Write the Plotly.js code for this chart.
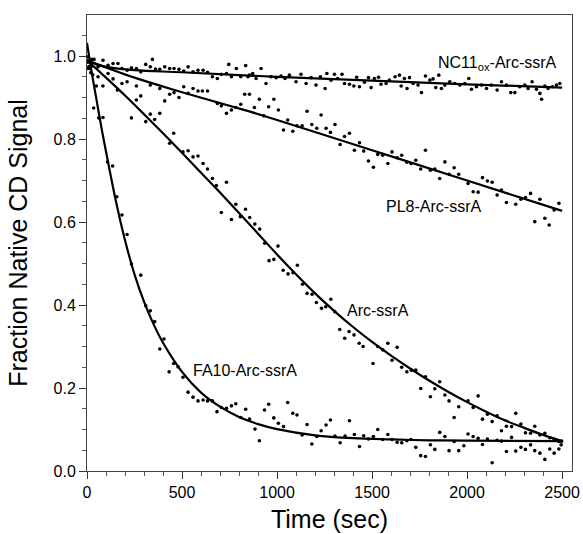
<!DOCTYPE html>
<html>
<head>
<meta charset="utf-8">
<script src="https://cdn.plot.ly/plotly-3.0.1.min.js"></script>
<style>html,body{margin:0;padding:0;background:#fff;}#chart{width:583px;height:534px;}</style>
</head>
<body>
<div id="chart"></div>
<script>
// ---- Data (time in sec, fraction native CD signal) ----
const fa10T = [5,20,35,62,84,108,135,157,184,211,234,283,309,333,356,383,405,432,456,479,505,532,558,584,611,634,660,684,707,734,760,783,809,835,855,884,907,934,956,983,1007,1034,1056,1083,1105,1132,1158,1183,1209,1232,1258,1281,1305,1332,1358,1381,1407,1434,1456,1481,1507,1530,1556,1583,1605,1632,1656,1683,1705,1730,1756,1781,1807,1830,1856,1883,1905,1932,1956,1983,2005,2032,2058,2081,2107,2132,2158,2181,2207,2234,2256,2283,2307,2334,2356,2383,2409,2435,2458,2483,2495];
const fa10V = [0.985,0.960,0.875,0.851,0.852,0.745,0.735,0.661,0.617,0.570,0.499,0.472,0.398,0.386,0.360,0.294,0.318,0.239,0.259,0.251,0.226,0.190,0.178,0.169,0.171,0.169,0.169,0.143,0.153,0.151,0.157,0.162,0.129,0.149,0.125,0.101,0.073,0.147,0.161,0.128,0.115,0.107,0.165,0.139,0.135,0.087,0.112,0.065,0.083,0.097,0.111,0.123,0.084,0.068,0.084,0.121,0.088,0.059,0.085,0.077,0.083,0.100,0.076,0.088,0.076,0.069,0.068,0.073,0.076,0.057,0.037,0.035,0.063,0.052,0.093,0.083,0.049,0.071,0.049,0.061,0.089,0.083,0.079,0.064,0.077,0.020,0.074,0.072,0.047,0.081,0.048,0.057,0.052,0.063,0.049,0.043,0.028,0.053,0.043,0.053,0.063];

const arcT = [10,30,49,84,160,234,260,309,333,356,383,435,456,505,532,558,584,611,634,660,681,707,734,760,783,807,834,856,883,909,935,958,983,1005,1032,1058,1084,1107,1134,1158,1184,1207,1234,1256,1283,1304,1330,1356,1379,1405,1432,1453,1505,1530,1556,1583,1605,1632,1656,1683,1707,1730,1756,1781,1807,1830,1856,1883,1905,1932,1956,2005,2032,2058,2081,2107,2132,2158,2181,2207,2234,2256,2283,2307,2334,2356,2383,2409,2435,2458,2483,2497];
const arcV = [0.975,0.955,0.928,0.928,0.918,0.851,0.894,0.842,0.860,0.847,0.862,0.790,0.814,0.769,0.772,0.757,0.759,0.741,0.728,0.705,0.688,0.623,0.696,0.606,0.643,0.613,0.631,0.611,0.595,0.583,0.549,0.507,0.510,0.542,0.484,0.475,0.478,0.496,0.450,0.428,0.426,0.406,0.392,0.396,0.414,0.384,0.341,0.320,0.336,0.328,0.308,0.300,0.259,0.300,0.292,0.308,0.267,0.298,0.250,0.239,0.243,0.243,0.199,0.227,0.179,0.198,0.215,0.183,0.169,0.129,0.155,0.169,0.153,0.181,0.125,0.137,0.119,0.133,0.097,0.108,0.107,0.139,0.113,0.092,0.091,0.108,0.087,0.091,0.080,0.075,0.071,0.072];

const pl8T = [5,23,58,111,137,184,211,260,283,333,383,409,435,458,484,509,532,558,584,607,634,686,707,734,760,783,809,830,855,881,907,930,956,983,1007,1034,1056,1083,1105,1132,1158,1183,1209,1232,1258,1281,1305,1332,1355,1381,1407,1434,1456,1481,1507,1530,1556,1583,1605,1632,1656,1683,1705,1730,1756,1781,1807,1830,1856,1883,1905,1932,1956,2005,2032,2058,2081,2107,2132,2158,2181,2207,2256,2283,2307,2334,2356,2383,2409,2432,2458,2483];
const pl8V = [0.970,0.975,0.950,0.958,0.945,0.934,0.938,0.928,0.904,0.930,0.922,0.892,0.908,0.912,0.900,0.926,0.910,0.922,0.916,0.916,0.916,0.886,0.880,0.862,0.870,0.876,0.884,0.908,0.908,0.876,0.896,0.856,0.878,0.896,0.870,0.822,0.846,0.819,0.832,0.832,0.867,0.835,0.826,0.858,0.826,0.816,0.835,0.787,0.806,0.814,0.773,0.791,0.771,0.747,0.732,0.763,0.761,0.741,0.769,0.755,0.761,0.744,0.741,0.749,0.728,0.773,0.725,0.728,0.705,0.745,0.715,0.731,0.715,0.693,0.673,0.672,0.707,0.699,0.696,0.665,0.677,0.647,0.643,0.655,0.659,0.669,0.601,0.655,0.609,0.593,0.629,0.645];

const nc11T = [5,14,26,37,58,84,111,137,163,184,211,234,260,283,309,333,344,360,383,409,435,458,484,509,532,558,584,611,634,660,686,707,734,746,760,786,809,835,847,855,872,890,916,942,968,995,1021,1042,1065,1100,1126,1153,1179,1205,1228,1253,1262,1284,1302,1319,1342,1355,1381,1404,1419,1434,1460,1481,1495,1512,1534,1547,1574,1591,1621,1644,1653,1670,1684,1697,1716,1742,1760,1781,1804,1821,1835,1851,1865,1883,1909,1935,1962,1988,2009,2023,2049,2076,2102,2128,2158,2181,2207,2230,2251,2277,2304,2321,2342,2365,2383,2392,2409,2426,2449,2470,2488];
const nc11V = [0.998,0.970,0.992,0.992,0.974,0.990,0.978,0.982,0.982,0.970,0.966,0.972,0.970,0.962,0.980,0.974,0.992,0.969,0.968,0.974,0.970,0.970,0.968,0.964,0.974,0.962,0.966,0.966,0.961,0.950,0.946,0.956,0.958,0.980,0.950,0.970,0.950,0.977,0.950,0.954,0.958,0.946,0.970,0.934,0.950,0.948,0.952,0.946,0.954,0.938,0.956,0.934,0.948,0.930,0.950,0.922,0.958,0.942,0.956,0.946,0.956,0.934,0.932,0.928,0.949,0.926,0.937,0.948,0.924,0.946,0.949,0.932,0.934,0.942,0.950,0.954,0.928,0.946,0.922,0.948,0.934,0.930,0.912,0.952,0.942,0.945,0.924,0.954,0.922,0.930,0.938,0.934,0.930,0.934,0.946,0.920,0.926,0.930,0.922,0.930,0.918,0.938,0.930,0.912,0.912,0.926,0.930,0.922,0.938,0.920,0.910,0.896,0.928,0.922,0.926,0.930,0.934];

// Fitted curves
const fa10FitT = [0,25,50,75,100,150,200,250,300,350,400,500,600,700,800,900,1000,1200,1400,1600,1800,2000,2500];
const fa10FitV = [1.032,0.960,0.895,0.830,0.770,0.655,0.556,0.474,0.408,0.354,0.309,0.239,0.189,0.155,0.130,0.113,0.101,0.086,0.079,0.076,0.074,0.073,0.072];
const arcFitT = [0,100,200,300,400,500,600,700,800,900,1000,1100,1200,1300,1400,1500,1600,1700,1800,1900,2000,2100,2200,2300,2400,2500];
const arcFitV = [0.990,0.948,0.905,0.860,0.814,0.767,0.719,0.671,0.622,0.572,0.522,0.474,0.428,0.386,0.347,0.311,0.278,0.247,0.218,0.191,0.166,0.143,0.122,0.104,0.087,0.072];
const pl8FitT = [0,250,500,858,1000,1500,1714,2000,2500];
const pl8FitV = [0.990,0.948,0.913,0.866,0.846,0.773,0.742,0.700,0.627];
const nc11FitT = [0,50,100,250,500,1000,1500,2000,2500];
const nc11FitV = [0.990,0.980,0.974,0.966,0.961,0.950,0.941,0.932,0.924];

// Labels
const labelText = ["NC11<sub>ox</sub>-Arc-ssrA", "PL8-Arc-ssrA", "Arc-ssrA", "FA10-Arc-ssrA"];
const labelT = [1835, 1565, 1356, 546];
const labelV = [0.981, 0.637, 0.388, 0.243];

const xTicks = [0, 500, 1000, 1500, 2000, 2500];
const yTicks = [0.0, 0.2, 0.4, 0.6, 0.8, 1.0];

const FONT = "Liberation Sans, Arial, Helvetica, sans-serif";

function pts(x, y) {
  return {x: x, y: y, type: 'scatter', mode: 'markers', cliponaxis: false,
          marker: {color: '#000', size: 3.6}, hoverinfo: 'skip', showlegend: false};
}
function fit(x, y) {
  return {x: x, y: y, type: 'scatter', mode: 'lines',
          line: {color: '#000', width: 2.2, shape: 'spline', smoothing: 1}, hoverinfo: 'skip', showlegend: false};
}

const data = [
  pts(fa10T, fa10V), pts(arcT, arcV), pts(pl8T, pl8V), pts(nc11T, nc11V),
  fit(fa10FitT, fa10FitV), fit(arcFitT, arcFitV), fit(pl8FitT, pl8FitV), fit(nc11FitT, nc11FitV)
];

const annotations = labelText.map((t, i) => ({
  x: labelT[i], y: labelV[i], xref: 'x', yref: 'y', text: t, showarrow: false,
  xanchor: 'left', yanchor: 'middle', font: {family: FONT, size: 16, color: '#000'}
}));

const layout = {
  width: 583, height: 534,
  margin: {l: 87, r: 11, t: 15, b: 63},
  paper_bgcolor: '#fff', plot_bgcolor: '#fff',
  font: {family: FONT, color: '#000'},
  showlegend: false,
  xaxis: {
    range: [0, 2552], tickvals: xTicks, ticktext: xTicks.map(String),
    ticks: 'outside', ticklen: 7, tickwidth: 1, tickcolor: '#333',
    minor: {dtick: 100, tick0: 0, ticks: 'outside', ticklen: 4, tickcolor: '#555', showgrid: false},
    showgrid: false, zeroline: false, showline: true, linecolor: '#444', linewidth: 1, mirror: true,
    tickfont: {family: FONT, size: 16, color: '#000'},
    title: {text: 'Time (sec)', font: {family: FONT, size: 25, color: '#000'}, standoff: 10}
  },
  yaxis: {
    range: [0, 1.099], tickvals: yTicks, ticktext: yTicks.map(v => v.toFixed(1)),
    ticks: 'outside', ticklen: 7, tickwidth: 1, tickcolor: '#333',
    minor: {dtick: 0.05, tick0: 0, ticks: 'outside', ticklen: 4, tickcolor: '#555', showgrid: false},
    showgrid: false, zeroline: false, showline: true, linecolor: '#444', linewidth: 1, mirror: true,
    tickfont: {family: FONT, size: 16, color: '#000'},
    title: {text: 'Fraction Native CD Signal', font: {family: FONT, size: 25, color: '#000'}, standoff: 18}
  },
  annotations: annotations
};

Plotly.newPlot('chart', data, layout, {displayModeBar: false, staticPlot: true});
</script>
</body>
</html>
